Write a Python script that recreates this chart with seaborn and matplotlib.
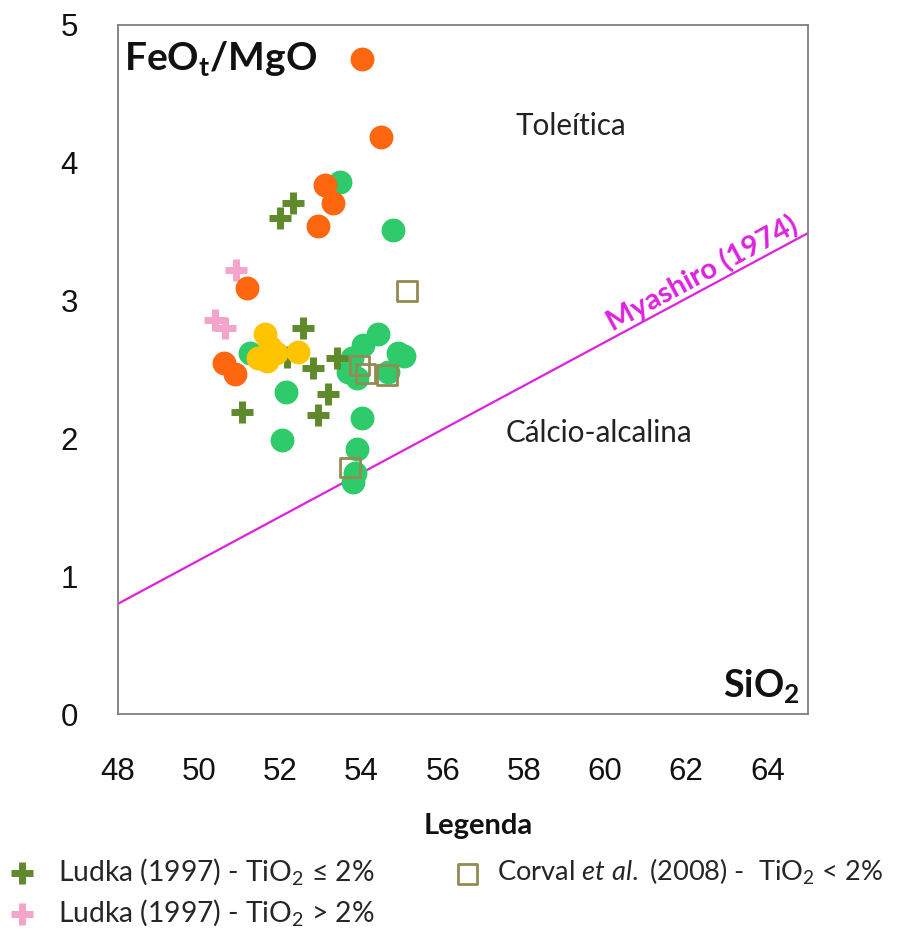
import matplotlib
matplotlib.use("Agg")
import matplotlib.pyplot as plt
import seaborn as sns
import pandas as pd
from matplotlib.ticker import MultipleLocator

# ---------------- data ----------------
green_sio2 = [53.47, 54.77, 54.40, 54.03, 53.76, 53.67, 53.89, 54.90, 55.05, 54.65,
              54.00, 53.88, 53.84, 53.79, 51.25, 52.14, 52.04]
green_ratio = [3.86, 3.51, 2.76, 2.68, 2.58, 2.48, 2.44, 2.62, 2.60, 2.48,
               2.15, 1.92, 1.75, 1.68, 2.62, 2.34, 1.99]

orange_sio2 = [54.00, 54.48, 53.10, 53.30, 52.93, 51.18, 50.61, 50.88]
orange_ratio = [4.75, 4.19, 3.84, 3.71, 3.54, 3.09, 2.55, 2.47]

yellow_sio2 = [51.62, 51.74, 51.67, 51.45, 51.90, 52.43]
yellow_ratio = [2.76, 2.66, 2.56, 2.58, 2.62, 2.63]

ludka_low_sio2 = [51.99, 52.31, 52.56, 52.16, 52.80, 51.05, 52.93, 53.17, 53.39]
ludka_low_ratio = [3.60, 3.71, 2.80, 2.59, 2.51, 2.19, 2.17, 2.32, 2.58]

ludka_high_sio2 = [50.91, 50.39, 50.64]
ludka_high_ratio = [3.22, 2.86, 2.80]

corval_sio2 = [55.12, 53.95, 54.10, 54.62, 53.71]
corval_ratio = [3.07, 2.53, 2.47, 2.46, 1.79]

myashiro_sio2 = [48.0, 65.0]
myashiro_ratio = [0.80, 3.49]

x_ticks = [48, 50, 52, 54, 56, 58, 60, 62, 64]
y_ticks = [0, 1, 2, 3, 4, 5]

legend_labels = [r"Ludka (1997) - TiO$_2$ ≤ 2%",
                 r"Ludka (1997) - TiO$_2$ > 2%",
                 r"Corval $et\ al.$ (2008) -  TiO$_2$ < 2%"]

# ---------------- style ----------------
sns.set_style("white")
plt.rcParams["font.family"] = ["Lato", "DejaVu Sans"]
plt.rcParams["mathtext.fontset"] = "custom"
plt.rcParams["mathtext.rm"] = "Lato"
plt.rcParams["mathtext.it"] = "Lato:italic"
plt.rcParams["mathtext.bf"] = "Lato:bold"

C_GREEN = "#2FCB6A"
C_ORANGE = "#FF6610"
C_YELLOW = "#FFC400"
C_OLIVE = "#5F8A2C"
C_PINK = "#F4A3CB"
C_SQUARE = "#948A54"
C_MAG = "#DD22DD"
AX_GRAY = "#7F7F7F"

fig = plt.figure(figsize=(9.06, 9.33), dpi=100)
ax = fig.add_axes([118 / 906, 1 - 714 / 933, (808 - 118) / 906, (714 - 25) / 933])

def frame(x, y):
    return pd.DataFrame({"SiO2": x, "ratio": y})

circle_s = 295
sns.scatterplot(data=frame(green_sio2, green_ratio), x="SiO2", y="ratio", ax=ax,
                color=C_GREEN, s=circle_s, linewidth=0, zorder=3)
sns.scatterplot(data=frame(ludka_low_sio2, ludka_low_ratio), x="SiO2", y="ratio", ax=ax,
                color=C_OLIVE, marker="+", s=260, linewidth=5, zorder=4,
                label=legend_labels[0])
sns.scatterplot(data=frame(ludka_high_sio2, ludka_high_ratio), x="SiO2", y="ratio", ax=ax,
                color=C_PINK, marker="+", s=260, linewidth=5, zorder=4,
                label=legend_labels[1])
sns.scatterplot(data=frame(orange_sio2, orange_ratio), x="SiO2", y="ratio", ax=ax,
                color=C_ORANGE, s=circle_s, linewidth=0, zorder=5)
sns.scatterplot(data=frame(yellow_sio2, yellow_ratio), x="SiO2", y="ratio", ax=ax,
                color=C_YELLOW, s=circle_s, linewidth=0, zorder=6)
sns.scatterplot(data=frame(corval_sio2, corval_ratio), x="SiO2", y="ratio", ax=ax,
                marker="s", s=200, facecolor="none", edgecolor=C_SQUARE, linewidth=2,
                zorder=7, label=legend_labels[2])
sns.lineplot(data=frame(myashiro_sio2, myashiro_ratio), x="SiO2", y="ratio", ax=ax,
             color=C_MAG, linewidth=1.6, zorder=2)

handles, labels = ax.get_legend_handles_labels()
if ax.get_legend() is not None:
    ax.get_legend().remove()

# ---------------- axes ----------------
ax.set_xlim(48, 65)
ax.set_ylim(0, 5)
ax.set_xlabel("")
ax.set_ylabel("")
ax.set_xticks(x_ticks)
ax.set_xticklabels([str(t) for t in x_ticks])
ax.xaxis.set_minor_locator(MultipleLocator(1))
ax.set_yticks(y_ticks)
ax.set_yticklabels([str(t) for t in y_ticks])
ax.yaxis.set_minor_locator(MultipleLocator(0.5))
for sp in ax.spines.values():
    sp.set_color(AX_GRAY)
    sp.set_linewidth(1.3)
ax.tick_params(axis="x", which="major", direction="out", length=10, width=1.3,
               color=AX_GRAY, pad=21, labelsize=22.5, labelfontfamily="Liberation Sans",
               labelcolor="#111111")
ax.tick_params(axis="x", which="minor", direction="out", length=16, width=1.3, color=AX_GRAY)
ax.tick_params(axis="y", which="both", direction="out", length=10, width=1.3,
               color=AX_GRAY, pad=19, labelsize=22.5, labelfontfamily="Liberation Sans",
               labelcolor="#111111")

# ---------------- annotations ----------------
ax.text(0.009, 0.935, r"FeO$_\mathbf{t}$/MgO", transform=ax.transAxes, ha="left",
        va="baseline", fontsize=28, fontweight="bold", color="#111111")
ax.text(0.988, 0.025, r"SiO$_\mathbf{2}$", transform=ax.transAxes, ha="right",
        va="baseline", fontsize=27, fontweight="bold", color="#111111")
ax.text(59.15, 4.27, "Toleítica", ha="center", va="center", fontsize=21.3, color="#222222")
ax.text(59.85, 2.04, "Cálcio-alcalina", ha="center", va="center", fontsize=21.3,
        color="#222222")
ax.text(62.55, 3.11, "Myashiro (1974)", ha="center", va="bottom", fontsize=21,
        fontweight="bold", color=C_MAG, rotation=28.3, rotation_mode="anchor")

# ---------------- legend ----------------
fig.text(478 / 906, 1 - 826 / 933, "Legenda", ha="center", va="center",
         fontsize=21, fontweight="bold", color="#111111")
leg1 = fig.legend(handles=handles[:2], labels=labels[:2], loc="upper left",
                  bbox_to_anchor=(-3 / 906, 1 - 845 / 933), frameon=False, fontsize=20.3,
                  handletextpad=0.78, labelspacing=0.35, handlelength=1.0,
                  borderaxespad=0)
leg2 = fig.legend(handles=handles[2:], labels=labels[2:], loc="upper left",
                  bbox_to_anchor=(443 / 906, 1 - 846 / 933), frameon=False, fontsize=19.6,
                  handletextpad=0.6, handlelength=1.0, borderaxespad=0)

fig.savefig("out.png", dpi=100)
